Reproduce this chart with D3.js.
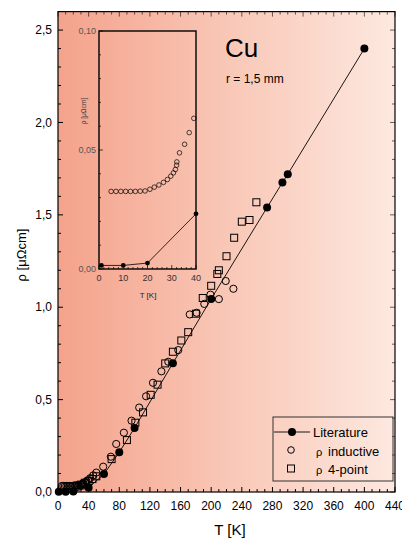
<!DOCTYPE html>
<html><head><meta charset="utf-8">
<script src="https://cdn.jsdelivr.net/npm/d3@7"></script>
<style>body{margin:0;background:#fff}svg{display:block;font-family:"Liberation Sans",Arial,sans-serif}</style>
</head><body>
<svg id="c" width="402" height="539"></svg>
<script>
// ---- data ----
const litT = [1,10,20,40,60,80,100,150,200,273,293,300,400];
const litR = [0.0015,0.0015,0.0025,0.0232,0.097,0.215,0.347,0.697,1.045,1.54,1.675,1.72,2.40];

const indT = [5,7,9,11,13,15,17,19,21,22.8,24.7,26.6,28.2,29.6,30.7,31.5,32,32.1,33.2,35.3,37.2,39.1,
              42,46,50,59,69,76,86,96,106,115,124,135,144,157,172,181,191,199,210,219,229];
const indR = [0.0326,0.0326,0.0326,0.0326,0.0326,0.0326,0.0327,0.0328,0.0335,0.0344,0.0353,0.0364,0.0376,0.039,0.0404,0.0418,0.0436,0.045,0.0488,0.0524,0.0573,0.0633,
              0.075,0.09,0.105,0.137,0.191,0.26,0.321,0.386,0.457,0.518,0.591,0.653,0.705,0.768,0.961,0.97,1.018,1.068,1.044,1.142,1.10];

const fpT = [25,30,35,40,45,50,70,90,101,111,121,130,140,150,161,170,180,189,200,208,210,220,230,240,250,259];
const fpR = [0.035,0.04,0.05,0.06,0.07,0.085,0.178,0.281,0.375,0.431,0.526,0.581,0.696,0.759,0.82,0.865,0.965,1.05,1.116,1.18,1.20,1.276,1.376,1.463,1.472,1.568];

const xTicks = [0,40,80,120,160,200,240,280,320,360,400,440];
const yTicks = [0,0.5,1.0,1.5,2.0,2.5];
const insXTicks = [0,10,20,30,40];
const insYTicks = [0,0.05,0.10];
const legendLabels = ["Literature","inductive","4-point"];

// ---- layout ----
const svg = d3.select("#c");
const X0=58, X1=395, Y0=492, Y1=11.6;
const x = d3.scaleLinear().domain([0,440]).range([X0,X1]);
const y = d3.scaleLinear().domain([0,2.6]).range([Y0,Y1]);
const ix = d3.scaleLinear().domain([0,40]).range([99,196]);
const iy = d3.scaleLinear().domain([0,0.1]).range([269,31]);
const fmt1 = d => d3.format(".1f")(d).replace(".",",");
const fmt2 = d => d3.format(".2f")(d).replace(".",",");

// gradient background
const defs = svg.append("defs");
const g = defs.append("linearGradient").attr("id","bg").attr("x1","0").attr("x2","1").attr("y1","0").attr("y2","0");
g.append("stop").attr("offset","0").attr("stop-color","#f4a28b");
g.append("stop").attr("offset","0.5").attr("stop-color","#f9c7b6");
g.append("stop").attr("offset","1").attr("stop-color","#fde8e0");
svg.append("rect").attr("x",X0).attr("y",Y1).attr("width",X1-X0).attr("height",Y0-Y1).attr("fill","url(#bg)");

// main axes ticks (inward, mirrored)
const ax = svg.append("g").attr("stroke","#000").attr("stroke-width",1);
d3.range(0,441,10).forEach(t=>{
  const L = t%40===0?5:3;
  ax.append("line").attr("x1",x(t)).attr("x2",x(t)).attr("y1",Y0).attr("y2",Y0-L);
  ax.append("line").attr("x1",x(t)).attr("x2",x(t)).attr("y1",Y1).attr("y2",Y1+L).attr("stroke-width",0.6);
});
d3.range(0,26).forEach(i=>{
  const v=i/10, L = i%5===0?5:3;
  ax.append("line").attr("x1",X0).attr("x2",X0+L).attr("y1",y(v)).attr("y2",y(v));
  ax.append("line").attr("x1",X1).attr("x2",X1-L).attr("y1",y(v)).attr("y2",y(v)).attr("stroke-width",0.6);
});
svg.append("rect").attr("x",X0).attr("y",Y1).attr("width",X1-X0).attr("height",Y0-Y1)
  .attr("fill","none").attr("stroke","#000").attr("stroke-width",1.2);

svg.append("g").selectAll("text").data(xTicks).join("text")
  .attr("x",d=>x(d)).attr("y",510).attr("text-anchor","middle").attr("font-size",12).text(d=>d);
svg.append("g").selectAll("text").data(yTicks).join("text")
  .attr("x",52).attr("y",d=>y(d)).attr("dy","0.35em").attr("text-anchor","end").attr("font-size",12).text(fmt1);

svg.append("text").attr("x",230).attr("y",535).attr("text-anchor","middle").attr("font-size",15).text("T [K]");
svg.append("text").attr("transform","translate(26,255) rotate(-90)").attr("text-anchor","middle").attr("font-size",13).text("ρ [μΩcm]");

svg.append("text").attr("x",225).attr("y",57).attr("font-size",26).text("Cu");
svg.append("text").attr("x",226).attr("y",83).attr("font-size",12).text("r = 1,5 mm");

// main data
const main = svg.append("g");
main.append("path").datum(litT.map((t,i)=>[t,litR[i]]))
  .attr("d",d3.line().x(d=>x(d[0])).y(d=>y(d[1]))).attr("fill","none").attr("stroke","#000").attr("stroke-width",0.9);
main.selectAll(".ind").data(indT.map((t,i)=>[t,indR[i]])).join("circle")
  .attr("cx",d=>x(d[0])).attr("cy",d=>y(d[1])).attr("r",3.6).attr("fill","none").attr("stroke","#000").attr("stroke-width",1);
main.selectAll(".fp").data(fpT.map((t,i)=>[t,fpR[i]])).join("rect")
  .attr("x",d=>x(d[0])-3.5).attr("y",d=>y(d[1])-3.5).attr("width",7).attr("height",7).attr("fill","none").attr("stroke","#000").attr("stroke-width",1);
main.selectAll(".lit").data(litT.map((t,i)=>[t,litR[i]])).join("circle")
  .attr("cx",d=>x(d[0])).attr("cy",d=>y(d[1])).attr("r",4).attr("fill","#000");

// inset
const ins = svg.append("g");
const it = ins.append("g").attr("stroke","#000").attr("stroke-width",0.7);
d3.range(0,41,2).forEach(t=>{
  const L = t%10===0?4:2;
  it.append("line").attr("x1",ix(t)).attr("x2",ix(t)).attr("y1",269).attr("y2",269-L);
});
d3.range(0,11).forEach(i=>{
  const v=i/100, L = i%5===0?4:2;
  it.append("line").attr("x1",99).attr("x2",99+L).attr("y1",iy(v)).attr("y2",iy(v));
});
ins.append("rect").attr("x",99).attr("y",31).attr("width",97).attr("height",238)
  .attr("fill","none").attr("stroke","#000").attr("stroke-width",1.4);
ins.selectAll(".ixt").data(insXTicks).join("text")
  .attr("x",d=>ix(d)).attr("y",281).attr("text-anchor","middle").attr("font-size",9).attr("fill","#333").text(d=>d);
ins.selectAll(".iyt").data(insYTicks).join("text")
  .attr("x",96).attr("y",d=>iy(d)).attr("dy","0.35em").attr("text-anchor","end").attr("font-size",9).attr("fill","#555").text(fmt2);
ins.append("text").attr("x",148).attr("y",298).attr("text-anchor","middle").attr("font-size",8).attr("fill","#222").text("T [K]");
ins.append("text").attr("transform","translate(86,111) rotate(-90)").attr("text-anchor","middle").attr("font-size",6.5).attr("fill","#333").text("ρ [μΩcm]");

const litIn = litT.map((t,i)=>[t,litR[i]]).filter(d=>d[0]<=40);
ins.append("path").datum([[0,litIn[0][1]]].concat(litIn))
  .attr("d",d3.line().x(d=>ix(d[0])).y(d=>iy(d[1]))).attr("fill","none").attr("stroke","#000").attr("stroke-width",0.8);
ins.selectAll(".iind").data(indT.map((t,i)=>[t,indR[i]]).filter(d=>d[0]<=40)).join("circle")
  .attr("cx",d=>ix(d[0])).attr("cy",d=>iy(d[1])).attr("r",2.3).attr("fill","none").attr("stroke","#000").attr("stroke-width",0.7);
ins.selectAll(".ilit").data(litIn).join("circle")
  .attr("cx",d=>ix(d[0])).attr("cy",d=>iy(d[1])).attr("r",2.4).attr("fill","#000");

// legend
const lg = svg.append("g");
lg.append("rect").attr("x",273).attr("y",417).attr("width",120).attr("height",64)
  .attr("fill","none").attr("stroke","#333").attr("stroke-width",1);
lg.append("line").attr("x1",274).attr("x2",310).attr("y1",432).attr("y2",432).attr("stroke","#000").attr("stroke-width",0.9);
lg.append("circle").attr("cx",292).attr("cy",432).attr("r",4).attr("fill","#000");
lg.append("circle").attr("cx",291).attr("cy",450).attr("r",3.3).attr("fill","none").attr("stroke","#000").attr("stroke-width",1);
lg.append("rect").attr("x",287.5).attr("y",465).attr("width",7).attr("height",7).attr("fill","none").attr("stroke","#000").attr("stroke-width",1);
lg.append("text").attr("x",313).attr("y",436.5).attr("font-size",13).text(legendLabels[0]);
[legendLabels[1],legendLabels[2]].forEach((s,i)=>{
  const yy = 455.5+i*18.5;
  lg.append("text").attr("x",316).attr("y",yy).attr("font-size",11).text("ρ");
  lg.append("text").attr("x",328).attr("y",yy).attr("font-size",13).text(s);
});
</script>
</body></html>
